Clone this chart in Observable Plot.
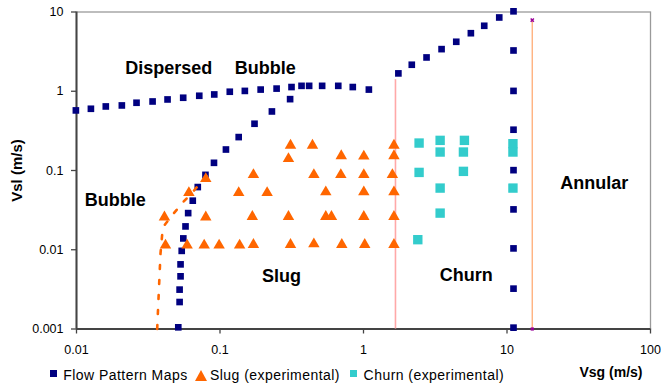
<!DOCTYPE html>
<html><head><meta charset="utf-8">
<script src="https://cdn.jsdelivr.net/npm/d3@7"></script>
<script src="https://cdn.jsdelivr.net/npm/@observablehq/plot@0.6"></script>
<style>
body{margin:0;background:#fff;font-family:"Liberation Sans",Arial,sans-serif;}
#chart{position:relative;width:661px;height:388px;overflow:hidden;}
#chart svg{position:absolute;left:0;top:0;}
g[aria-label="regions"] text{letter-spacing:0.8px;}
g[aria-label="axis-title"] text{letter-spacing:0.8px;}
.lg{position:absolute;font-size:14px;line-height:16px;letter-spacing:0.45px;color:#000;white-space:nowrap;}
.sw{position:absolute;}
</style></head><body><div id="chart"></div>
<script>
// ---- axes ----
const xDomain = [0.01, 100];
const yDomain = [0.001, 10];
const xTicks = [0.01, 0.1, 1, 10, 100];
const yTicks = [0.001, 0.01, 0.1, 1, 10];

// ---- Flow Pattern Maps (transition boundaries, Vsg / Vsl) ----
const flowX = [
  // dispersed bubble boundary
  0.0099, 0.0126, 0.016, 0.0207, 0.0262, 0.0339, 0.0431, 0.0554, 0.0717, 0.0912,
  0.117, 0.149, 0.192, 0.248, 0.315, 0.370, 0.418, 0.515, 0.667, 0.842, 1.09,
  // bubble / slug boundary
  0.308, 0.230, 0.174, 0.135, 0.110, 0.0908, 0.0792, 0.0700, 0.0646, 0.0600,
  0.0575, 0.0555, 0.0541, 0.0531, 0.0531, 0.0523, 0.0523, 0.0512,
  // annular boundary
  1.75, 2.17, 2.75, 3.50, 4.43, 5.60, 6.94, 8.83, 11.1,
  // churn / annular column
  11.1, 11.1, 11.1, 11.1, 11.1, 11.1, 11.1, 11.1
];
const flowY = [
  0.573, 0.601, 0.643, 0.662, 0.716, 0.743, 0.788, 0.828, 0.877, 0.911,
  0.986, 1.01, 1.05, 1.08, 1.13, 1.17, 1.17, 1.17, 1.17, 1.13, 1.05,
  0.795, 0.556, 0.389, 0.264, 0.184, 0.125, 0.0881, 0.0618, 0.0416, 0.0290,
  0.0197, 0.0139, 0.00968, 0.00654, 0.00462, 0.00314, 0.00219, 0.00105,
  1.68, 2.16, 2.67, 3.40, 4.21, 5.40, 6.70, 8.53, 10.2,
  3.27, 1.01, 0.327, 0.101, 0.0323, 0.0104, 0.00323, 0.00104
];

// ---- Slug (experimental) ----
const slugX = [
  0.0417, 0.059, 0.0776, 0.0986, 0.137, 0.171, 0.31, 0.451, 0.706, 1.02, 1.63,
  0.041, 0.0796, 0.168, 0.30, 0.546, 0.598, 1.005, 1.63,
  0.0607, 0.135, 0.213, 0.546, 1.005, 1.63,
  0.0796, 0.171, 0.451, 0.695, 1.005, 1.59,
  0.30, 0.70, 1.005, 1.63,
  0.31, 0.441, 1.63
];
const slugY = [
  0.0114, 0.0114, 0.0114, 0.0114, 0.0114, 0.0116, 0.0116, 0.0118, 0.0116, 0.0116, 0.0116,
  0.0258, 0.0258, 0.0262, 0.0262, 0.0262, 0.0262, 0.0262, 0.0262,
  0.0524, 0.0524, 0.0524, 0.0535, 0.0535, 0.0535,
  0.0786, 0.0883, 0.0883, 0.0883, 0.0883, 0.0883,
  0.1406, 0.1525, 0.151, 0.1525,
  0.2075, 0.2075, 0.2075
];

// ---- Churn (experimental) ----
const churnX = [2.44, 3.42, 5.05, 11.0, 11.0, 3.42, 4.97, 2.44, 4.97, 3.42, 11.0, 3.42, 2.39];
const churnY = [0.222, 0.240, 0.240, 0.218, 0.171, 0.171, 0.171, 0.0946, 0.0975, 0.060, 0.060, 0.029, 0.0134];

// ---- bubble/slug dashed transition ----
const bubbleLineX = [0.0365, 0.0375, 0.0385, 0.0395, 0.0404, 0.0470, 0.0554, 0.0646, 0.0871];
const bubbleLineY = [0.001, 0.00308, 0.00902, 0.0152, 0.0197, 0.0280, 0.040, 0.0535, 0.1015];

// ---- vertical transition lines ----
const slugChurnLine = {x: 1.67, top: 1.4};
const churnAnnularLine = {x: 15, top: 7.9};

// ---- region labels ----
const regionLabels = ["Dispersed", "Bubble", "Bubble", "Slug", "Churn", "Annular"];
const regionX = [0.0440, 0.207, 0.0186, 0.268, 5.20, 40.6];
const regionY = [1.95, 1.95, 0.0420, 0.00462, 0.00482, 0.0693];

const legendLabels = ["Flow Pattern Maps", "Slug (experimental)", "Churn (experimental)"];
const colors = {flow: "#000080", slug: "#FF6600", churn: "#33CCCC"};

const flow = flowX.map((x, i) => ({x, y: flowY[i]}));
const slug = slugX.map((x, i) => ({x, y: slugY[i]}));
const churn = churnX.map((x, i) => ({x, y: churnY[i]}));
const bubbleLine = bubbleLineX.map((x, i) => ({x, y: bubbleLineY[i]}));
const regions = regionLabels.map((t, i) => ({t, x: regionX[i], y: regionY[i]}));
const fmt = d => String(d);

const plot = Plot.plot({
  width: 661, height: 388,
  marginLeft: 76, marginRight: 11, marginTop: 11.5, marginBottom: 59.5,
  x: {type: "log", domain: xDomain},
  y: {type: "log", domain: yDomain},
  style: {fontFamily: "'Liberation Sans', Arial, sans-serif", fontSize: "12.5px", color: "#000", background: "transparent", overflow: "visible"},
  marks: [
    Plot.frame({stroke: "#9a9a9a", strokeWidth: 1.3}),
    Plot.ruleX([xDomain[0]], {stroke: "#444", strokeWidth: 2}),
    Plot.ruleY([yDomain[0]], {stroke: "#444", strokeWidth: 2}),
    Plot.axisX({ticks: xTicks, tickFormat: fmt, tickSize: 5, tickPadding: 11, label: null, stroke: "#444", strokeWidth: 1.3}),
    Plot.axisY({ticks: yTicks, tickFormat: fmt, tickSize: 5, tickPadding: 8, label: null, stroke: "#444", strokeWidth: 1.3}),
    Plot.ruleX([slugChurnLine], {x: "x", y1: "top", y2: yDomain[0], stroke: "#FFA8A8", strokeWidth: 1.6}),
    Plot.ruleX([churnAnnularLine], {x: "x", y1: "top", y2: yDomain[0], stroke: "#FFB27F", strokeWidth: 1.4}),
    Plot.dot([churnAnnularLine], {x: "x", y: "top", symbol: "times", r: 1.6, stroke: "#990099", strokeWidth: 1.5}),
    Plot.dot([churnAnnularLine], {x: "x", y: () => yDomain[0], symbol: "square", r: 1.8, fill: "#990099"}),
    Plot.dot(flow, {x: "x", y: "y", symbol: "square", r: 3.75, fill: colors.flow}),
    Plot.line(bubbleLine, {x: "x", y: "y", stroke: colors.slug, strokeWidth: 2.6, strokeDasharray: "4,11"}),
    Plot.dot(slug, {x: "x", y: "y", symbol: "triangle", r: 4.25, fill: colors.slug}),
    Plot.dot(churn, {x: "x", y: "y", symbol: "square", r: 5.3, fill: colors.churn}),
    Plot.text(regions, {x: "x", y: "y", text: "t", fontSize: 18, fontWeight: "bold", textAnchor: "middle", lineAnchor: "middle", ariaLabel: "regions"}),
    Plot.text(["Vsl (m/s)"], {frameAnchor: "left", text: d => d, rotate: -90, dx: -59.5, fontSize: 15, fontWeight: "bold", lineAnchor: "middle", textAnchor: "middle", ariaLabel: "axis-title"}),
    Plot.text(["Vsg (m/s)"], {frameAnchor: "bottom-right", text: d => d, dx: -8, dy: 44, fontSize: 14, fontWeight: "bold", lineAnchor: "middle", textAnchor: "end", ariaLabel: "axis-title"})
  ]
});

const chart = document.getElementById("chart");
chart.appendChild(plot);

// legend (HTML, below the plot frame)
const lg = [
  {sw: `<svg class="sw" style="left:50px;top:370px" width="7" height="7"><rect width="7" height="7" fill="${colors.flow}"/></svg>`, left: 63.3},
  {sw: `<svg class="sw" style="left:195px;top:369.5px" width="12" height="11"><polygon points="6,0 12,11 0,11" fill="${colors.slug}"/></svg>`, left: 210},
  {sw: `<svg class="sw" style="left:350px;top:370px" width="7" height="7"><rect width="7" height="7" fill="${colors.churn}"/></svg>`, left: 363.6}
];
lg.forEach((d, i) => {
  chart.insertAdjacentHTML("beforeend", d.sw);
  const el = document.createElement("div");
  el.className = "lg";
  el.style.left = d.left + "px";
  el.style.top = "366.5px";
  el.textContent = legendLabels[i];
  chart.appendChild(el);
});
</script>
</body></html>
